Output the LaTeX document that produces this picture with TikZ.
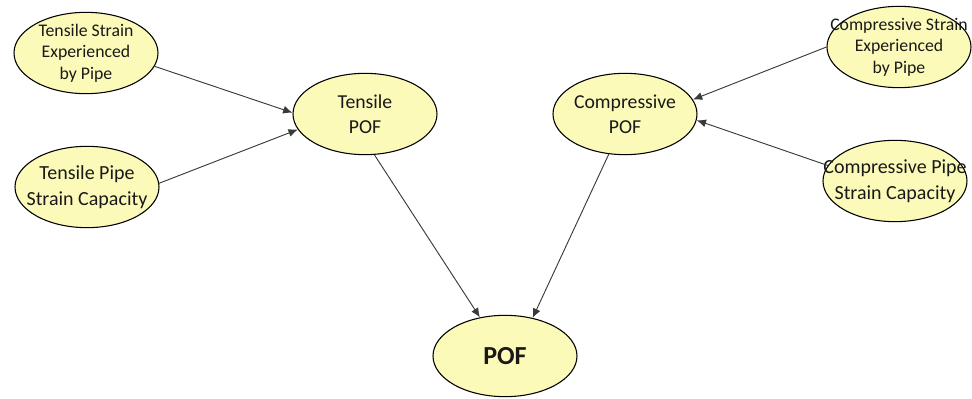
\documentclass[tikz,border=0pt]{standalone}
\usepackage{fontspec}
\setmainfont{Carlito}
\usepackage{xcolor}
\definecolor{pofFill}{HTML}{FCFAB8}
\definecolor{pofLine}{HTML}{3A3A3A}
\usepackage{tikz}
\usetikzlibrary{shapes.geometric,arrows.meta}

\begin{document}
\begin{tikzpicture}[x=0.75pt, y=-0.75pt, >={Latex[length=7pt,width=6pt]},
    bubble/.style={ellipse, draw=black, line width=0.8pt, fill=pofFill,
      minimum width=108pt, minimum height=61pt, inner xsep=-40pt, inner ysep=-20pt,
      align=center, text=black!90},
    small/.style={font=\fontsize{13.3}{16}\selectfont},
    mid/.style={font=\fontsize{14.8}{18.8}\selectfont},
    big/.style={font=\fontsize{15}{19.5}\selectfont},
    link/.style={->, pofLine, line width=0.7pt}]
  \useasboundingbox (0,0) rectangle (972,399);
  % inputs on the tensile side
  \node[bubble, small] (tse)  at (86,53)  {Tensile Strain\\Experienced\\by Pipe};
  \node[bubble, big]   (tpsc) at (87,187) {Tensile Pipe\\Strain Capacity};
  % inputs on the compressive side
  \node[bubble, small] (cse)  at (899,47)  {Compressive Strain\\Experienced\\by Pipe};
  \node[bubble, big]   (cpsc) at (895,181) {Compressive Pipe\\Strain Capacity};
  % the two partial POFs and the total
  \node[bubble, mid] (tpof) at (365,114) {Tensile\\POF};
  \node[bubble, mid] (cpof) at (625,114) {Compressive\\POF};
  \node[bubble, font=\fontsize{19.5}{22}\selectfont\bfseries] (pof) at (505,356) {POF};
  % links
  \draw[link] (tse.-11)  -- (tpof.179);
  \draw[link] (tpsc.3)   -- (tpof.193);
  \draw[link] (cse.180)  -- (cpof.12);
  \draw[link] (cpsc.167) -- (cpof.-5);
  \draw[link] (tpof.-77)  -- (pof.123);
  \draw[link] (cpof.-112) -- (pof.54);
\end{tikzpicture}
\end{document}
